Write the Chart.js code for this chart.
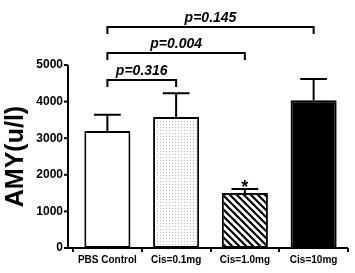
<!DOCTYPE html>
<html>
<head>
<meta charset="utf-8">
<script src="https://cdn.jsdelivr.net/npm/chart.js@4"></script>
<style>
    html, body { margin: 0; padding: 0; background: #fff; }
    #wrap { width: 355px; height: 273px; }
</style>
</head>
<body>
<div id="wrap"><canvas id="amyChart" width="355" height="273"></canvas></div>
<script>
// data
const groups = ['PBS Control', 'Cis=0.1mg', 'Cis=1.0mg', 'Cis=10mg'];
const means = [3200, 3580, 1500, 4040];
const errTop = [3640, 4230, 1610, 4620];
const yTicks = [0, 1000, 2000, 3000, 4000, 5000];
const starred = [false, false, true, false];

// significance brackets: pair of groups, bracket level, label
const pairFrom = [0, 0, 0];
const pairTo = [1, 2, 3];
const pairLevel = [4590, 5330, 6040];
const pairText = ['p=0.316', 'p=0.004', 'p=0.145'];

const FONT = '"Liberation Sans", Arial, sans-serif';

document.addEventListener('DOMContentLoaded', () => {
    const ctx = document.getElementById('amyChart').getContext('2d');

    // 填充图案
    function dotPattern() {
        const c = document.createElement('canvas');
        c.width = 3; c.height = 3;
        const g = c.getContext('2d');
        g.fillStyle = '#fff';
        g.fillRect(0, 0, 3, 3);
        g.fillStyle = '#b8b8b8';
        g.fillRect(1, 1, 1, 1);
        return ctx.createPattern(c, 'repeat');
    }

    function stripePattern() {
        const s = 7;
        const c = document.createElement('canvas');
        c.width = s; c.height = s;
        const g = c.getContext('2d');
        g.fillStyle = '#fff';
        g.fillRect(0, 0, s, s);
        g.strokeStyle = '#000';
        g.lineWidth = 2.2;
        g.beginPath();
        g.moveTo(-1, -1); g.lineTo(s + 1, s + 1);
        g.moveTo(-1, s - 1); g.lineTo(1, s + 1);
        g.moveTo(s - 1, -1); g.lineTo(s + 1, 1);
        g.stroke();
        return ctx.createPattern(c, 'repeat');
    }

    const fills = ['#ffffff', dotPattern(), stripePattern(), '#000000'];

    // axes, error bars, asterisk and brackets
    const extras = {
        id: 'extras',
        afterDatasetsDraw(chart) {
            const c = chart.ctx;
            const area = chart.chartArea;
            const y = chart.scales.y;
            const bars = chart.getDatasetMeta(0).data;
            const axisX = area.left - 5;

            c.save();
            c.strokeStyle = '#000';
            c.fillStyle = '#000';
            c.lineWidth = 2;

            // axis lines
            c.beginPath();
            c.moveTo(axisX, y.getPixelForValue(5000));
            c.lineTo(axisX, area.bottom);
            c.lineTo(area.right, area.bottom);
            c.stroke();
            yTicks.forEach(v => {
                const py = y.getPixelForValue(v);
                c.beginPath();
                c.moveTo(axisX - 4, py);
                c.lineTo(axisX, py);
                c.stroke();
            });

            // error bars (upper only)
            bars.forEach((bar, i) => {
                const top = y.getPixelForValue(means[i]);
                const et = y.getPixelForValue(errTop[i]);
                const half = bar.width * 0.29;
                c.beginPath();
                c.moveTo(bar.x, top);
                c.lineTo(bar.x, et);
                c.moveTo(bar.x - half, et);
                c.lineTo(bar.x + half, et);
                c.stroke();
                if (starred[i]) {
                    c.font = 'bold 18px ' + FONT;
                    c.textAlign = 'center';
                    c.textBaseline = 'alphabetic';
                    c.fillText('*', bar.x, et + 4);
                }
            });

            // brackets
            c.font = 'bold italic 14px ' + FONT;
            c.textAlign = 'center';
            c.textBaseline = 'alphabetic';
            pairLevel.forEach((lv, k) => {
                const x1 = bars[pairFrom[k]].x;
                const x2 = bars[pairTo[k]].x;
                const py = y.getPixelForValue(lv);
                c.beginPath();
                c.moveTo(x1, py + 7);
                c.lineTo(x1, py);
                c.lineTo(x2, py);
                c.lineTo(x2, py + 7);
                c.stroke();
                c.fillText(pairText[k], (x1 + x2) / 2, py - 5);
            });
            c.restore();
        }
    };

    new Chart(ctx, {
        type: 'bar',
        data: {
            labels: groups,
            datasets: [{
                data: means,
                backgroundColor: fills,
                borderColor: '#000',
                borderWidth: 2,
                borderSkipped: false,
                categoryPercentage: 1,
                barPercentage: 0.67
            }]
        },
        options: {
            responsive: false,
            animation: false,
            layout: { padding: { top: 65, right: 7, left: 0, bottom: 0 } },
            plugins: {
                legend: { display: false },
                tooltip: { enabled: false }
            },
            scales: {
                x: {
                    offset: true,
                    border: { display: false },
                    grid: {
                        display: true,
                        drawOnChartArea: false,
                        drawTicks: true,
                        tickLength: 4,
                        color: '#000',
                        lineWidth: 2
                    },
                    ticks: {
                        color: '#000',
                        padding: 2,
                        maxRotation: 0,
                        autoSkip: false,
                        font: { family: FONT, size: 10, weight: 'bold' }
                    },
                    afterFit: s => { s.height = 25; }
                },
                y: {
                    min: 0,
                    max: 5000,
                    border: { display: false },
                    grid: { display: false, drawTicks: false },
                    afterBuildTicks: s => { s.ticks = yTicks.map(v => ({ value: v })); },
                    ticks: {
                        color: '#000',
                        padding: 10,
                        callback: v => String(v),
                        font: { family: FONT, size: 12, weight: 'bold' }
                    },
                    title: {
                        display: true,
                        text: 'AMY(u/l)',
                        color: '#000',
                        padding: { top: 4, bottom: 0 },
                        font: { family: FONT, size: 25, weight: 'bold', lineHeight: 1 }
                    },
                    afterFit: s => { s.width = 73; }
                }
            }
        },
        plugins: [extras]
    });
});
</script>
</body>
</html>
